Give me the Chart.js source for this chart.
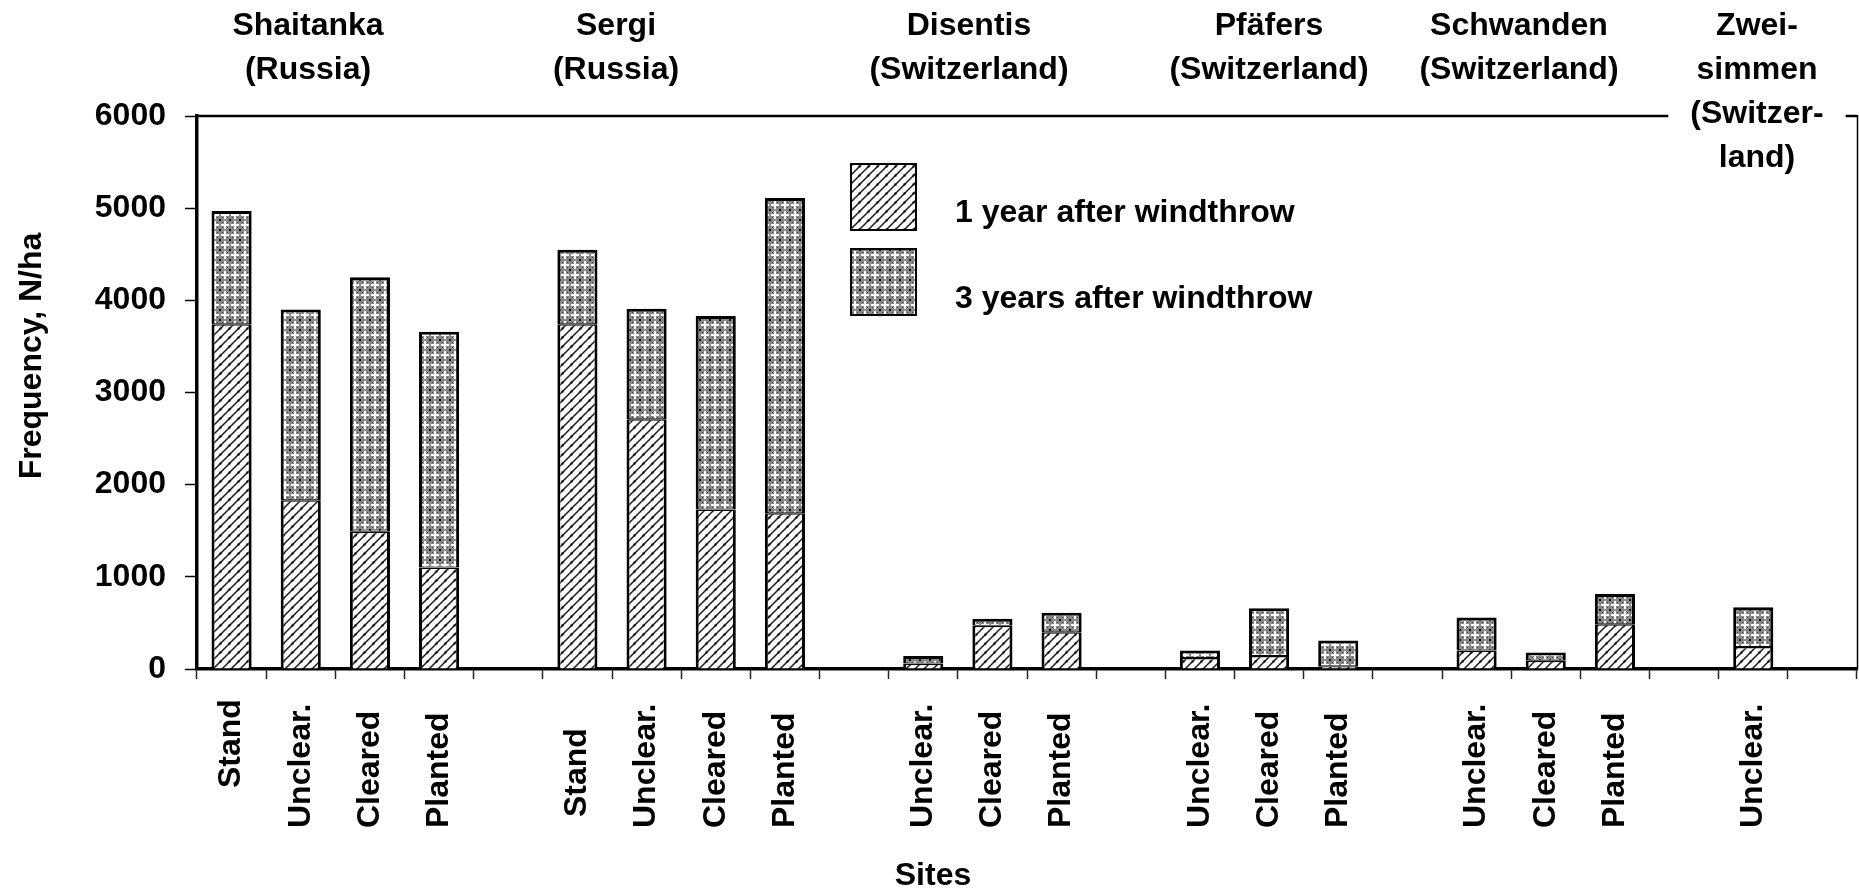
<!DOCTYPE html>
<html>
<head>
<meta charset="utf-8">
<script src="https://cdn.jsdelivr.net/npm/chart.js@4.4.1/dist/chart.umd.min.js"></script>
<style>
  html, body { margin: 0; padding: 0; background: #fff; }
  canvas { display: block; }
</style>
</head>
<body>
<canvas id="c" width="1859" height="888"></canvas>
<script>
// Seedling frequency per treatment, grouped by windthrow site
const categories = [
  'Stand', 'Unclear.', 'Cleared', 'Planted', '',
  'Stand', 'Unclear.', 'Cleared', 'Planted', '',
  'Unclear.', 'Cleared', 'Planted', '',
  'Unclear.', 'Cleared', 'Planted', '',
  'Unclear.', 'Cleared', 'Planted', '',
  'Unclear.', ''
];

// N/ha one year after windthrow
const oneYear = [
  3740, 1830, 1490, 1100, null,
  3740, 2710, 1730, 1690, null,
  60, 470, 400, null,
  120, 140, 30, null,
  200, 90, 485, null,
  240, null
];

// additional N/ha recorded three years after windthrow (stacked on top)
const threeYears = [
  1230, 2070, 2760, 2560, null,
  810, 1200, 2100, 3420, null,
  80, 75, 210, null,
  80, 520, 280, null,
  360, 90, 330, null,
  430, null
];

const siteTitles = [
  ['Shaitanka', '(Russia)'],
  ['Sergi', '(Russia)'],
  ['Disentis', '(Switzerland)'],
  ['Pfäfers', '(Switzerland)'],
  ['Schwanden', '(Switzerland)'],
  ['Zwei-', 'simmen', '(Switzer-', 'land)']
];

const seriesNames = ['1 year after windthrow', '3 years after windthrow'];
const yTicks = [0, 1000, 2000, 3000, 4000, 5000, 6000];

// ---- layout / styling ----
const FONT = "'Liberation Sans', Arial, Helvetica, sans-serif";
const BOLD32 = 'bold 32px ' + FONT;
const siteTitleX = [308, 616, 969, 1269, 1519, 1757];
const titleBaselines = [35, 79, 123, 167];
const labelStartY = 828;
const labelLift = { 0: 40, 5: 11 };

const canvas = document.getElementById('c');
const ctx = canvas.getContext('2d');

function makeHatch() {
  const s = 9;
  const c = document.createElement('canvas');
  c.width = s; c.height = s;
  const g = c.getContext('2d');
  g.fillStyle = '#fff';
  g.fillRect(0, 0, s, s);
  g.strokeStyle = '#1a1a1a';
  g.lineWidth = 1.5;
  g.beginPath();
  g.moveTo(-1, s + 1); g.lineTo(s + 1, -1);
  g.moveTo(-1, 1); g.lineTo(1, -1);
  g.moveTo(s - 1, s + 1); g.lineTo(s + 1, s - 1);
  g.stroke();
  g.fillStyle = '#000';
  g.fillRect(3.5, 3.5, 2, 2);
  return ctx.createPattern(c, 'repeat');
}

function makeDots() {
  const s = 10;
  const c = document.createElement('canvas');
  c.width = s; c.height = s;
  const g = c.getContext('2d');
  g.fillStyle = '#8a8a8a';
  g.fillRect(0, 0, s, s);
  g.fillStyle = '#fff';
  g.fillRect(4, 1, 2, 8);
  g.fillRect(1, 4, 8, 2);
  g.fillStyle = '#111';
  g.fillRect(0, 0, 1, 1); g.fillRect(9, 0, 1, 1);
  g.fillRect(0, 9, 1, 1); g.fillRect(9, 9, 1, 1);
  g.fillStyle = '#444';
  g.fillRect(2, 2, 1, 1); g.fillRect(7, 2, 1, 1);
  g.fillRect(2, 7, 1, 1); g.fillRect(7, 7, 1, 1);
  return ctx.createPattern(c, 'repeat');
}

const hatch = makeHatch();
const dots = makeDots();

const decorations = {
  id: 'decorations',
  afterDraw(chart) {
    const g = chart.ctx;
    const area = chart.chartArea;
    const xs = chart.scales.x;
    const ys = chart.scales.y;
    g.save();
    g.fillStyle = '#000';
    g.font = BOLD32;

    // site titles above the frame
    g.textAlign = 'center';
    g.textBaseline = 'alphabetic';
    let gap = null;
    siteTitles.forEach((lines, i) => {
      lines.forEach((t, j) => {
        g.fillText(t, siteTitleX[i], titleBaselines[j]);
      });
      if (lines.length > 2) {
        const w = g.measureText(lines[2]).width;
        gap = [siteTitleX[i] - w / 2 - 22, siteTitleX[i] + w / 2 + 22];
      }
    });

    // frame: top line (interrupted by the long title) and right edge
    const yTop = ys.getPixelForValue(6000);
    g.strokeStyle = '#000';
    g.lineWidth = 2.5;
    g.beginPath();
    if (gap) {
      g.moveTo(area.left, yTop); g.lineTo(gap[0], yTop);
      g.moveTo(gap[1], yTop); g.lineTo(area.right, yTop);
    } else {
      g.moveTo(area.left, yTop); g.lineTo(area.right, yTop);
    }
    g.stroke();
    g.lineWidth = 1.5;
    g.beginPath();
    g.moveTo(area.right + 0.5, yTop - 1);
    g.lineTo(area.right + 0.5, area.bottom);
    g.stroke();

    // legend
    const fills = [hatch, dots];
    const boxY = [164, 249];
    const textY = [222, 308];
    g.textAlign = 'left';
    fills.forEach((f, i) => {
      g.fillStyle = f;
      g.fillRect(851, boxY[i], 65, 66);
      g.lineWidth = 2;
      g.strokeStyle = '#000';
      g.strokeRect(851, boxY[i], 65, 66);
      g.fillStyle = '#000';
      g.fillText(seriesNames[i], 955, textY[i]);
    });

    // rotated treatment labels under the axis
    g.textAlign = 'left';
    g.textBaseline = 'middle';
    categories.forEach((lab, i) => {
      if (!lab) return;
      const x = xs.getPixelForValue(i);
      const y = labelStartY - (labelLift[i] || 0);
      g.save();
      g.translate(x, y);
      g.rotate(-Math.PI / 2);
      g.fillText(lab, 0, 0);
      g.restore();
    });

    // axis titles
    g.save();
    g.translate(32, 356);
    g.rotate(-Math.PI / 2);
    g.textAlign = 'center';
    g.textBaseline = 'middle';
    g.fillText('Frequency, N/ha', 0, 0);
    g.restore();

    g.textAlign = 'center';
    g.textBaseline = 'alphabetic';
    g.fillText('Sites', 933, 885);
    g.restore();
  }
};

new Chart(ctx, {
  type: 'bar',
  data: {
    labels: categories,
    datasets: [
      {
        label: seriesNames[0],
        data: oneYear,
        backgroundColor: hatch,
        borderColor: '#000',
        borderWidth: { top: 1.5, left: 3, right: 3, bottom: 0 },
        borderSkipped: false,
        stack: 'site',
        barPercentage: 0.58,
        categoryPercentage: 1
      },
      {
        label: seriesNames[1],
        data: threeYears,
        backgroundColor: dots,
        borderColor: '#000',
        borderWidth: { top: 3, left: 3, right: 3, bottom: 1 },
        borderSkipped: false,
        stack: 'site',
        barPercentage: 0.58,
        categoryPercentage: 1
      }
    ]
  },
  options: {
    responsive: false,
    animation: false,
    devicePixelRatio: 1,
    layout: { padding: { top: 116, right: 2, left: 0, bottom: 0 } },
    plugins: {
      legend: { display: false },
      tooltip: { enabled: false },
      title: { display: false }
    },
    scales: {
      x: {
        stacked: true,
        offset: true,
        grid: {
          offset: true,
          drawOnChartArea: false,
          drawTicks: true,
          tickLength: 10,
          tickWidth: 1.5,
          tickColor: '#222'
        },
        border: { display: true, color: '#000', width: 3.5 },
        ticks: { display: false },
        afterFit(scale) { scale.height = 219; }
      },
      y: {
        stacked: true,
        min: 0,
        max: 6000,
        afterBuildTicks(scale) { scale.ticks = yTicks.map(v => ({ value: v })); },
        ticks: {
          color: '#000',
          font: { family: FONT, size: 32, weight: 'bold' },
          padding: 19,
          callback: (v) => String(v)
        },
        grid: {
          drawOnChartArea: false,
          drawTicks: true,
          tickLength: 12,
          tickWidth: 1.5,
          tickColor: '#000'
        },
        border: { display: true, color: '#000', width: 3.5 },
        afterFit(scale) { scale.width = 197; }
      }
    }
  },
  plugins: [decorations]
});
</script>
</body>
</html>
